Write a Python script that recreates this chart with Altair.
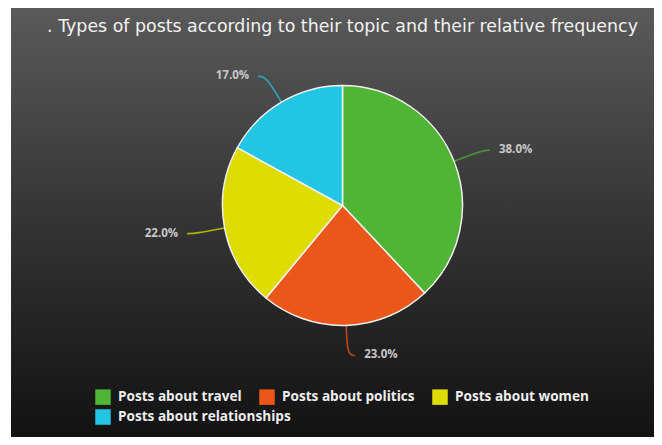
import altair as alt
import pandas as pd

# ---- data ----
categories = [
    "Posts about travel",
    "Posts about politics",
    "Posts about women",
    "Posts about relationships",
]
shares = [38.0, 23.0, 22.0, 17.0]
slice_colors = ["#50b434", "#ea5719", "#dedc00", "#22c6e4"]
title_text = ". Types of posts according to their topic and their relative frequency"

df = pd.DataFrame({"category": categories, "share": shares, "idx": list(range(len(categories)))})

# ---- layout ----
W, H = 646, 429
CX, CY = 334.5, 197.5
R = 120

xs = alt.Scale(domain=[-CX, W - CX], nice=False, zero=False)
ys = alt.Scale(domain=[-(H - CY), CY], nice=False, zero=False)
cscale = alt.Scale(domain=categories, range=slice_colors)
# the legend wraps after three entries: the last entry gets its own legend row
row2_scale = alt.Scale(domain=categories[3:], range=slice_colors[3:])

legend_style = dict(
    orient="none", direction="horizontal", title=None,
    symbolType="square", symbolSize=240, symbolStrokeWidth=0, symbolOpacity=1,
    labelFont="Open Sans", labelFontSize=13.6, labelFontWeight="bold",
    labelColor="#eeeeee", labelOffset=7, columnPadding=17,
    padding=0, labelLimit=300, legendX=87,
)
legend_row1 = alt.Legend(values=categories[:3], legendY=381, **legend_style)
legend_row2 = alt.Legend(legendY=401, **legend_style)

gradient = alt.LinearGradient(
    gradient="linear",
    x1=0, y1=0, x2=0, y2=1,
    stops=[
        alt.GradientStop(offset=0, color="#5a5a5a"),
        alt.GradientStop(offset=0.5, color="#343434"),
        alt.GradientStop(offset=1, color="#121212"),
    ],
)

one = alt.Data(values=[{}])

bg = alt.Chart(one).mark_rect(fill=gradient).encode(
    x=alt.value(3), x2=alt.value(W), y=alt.value(0), y2=alt.value(H)
)

title = alt.Chart(one).mark_text(
    text=title_text, font="DejaVu Sans", fontSize=17.4, color="#f2f2f2",
    align="center", baseline="alphabetic",
).encode(x=alt.value(334.5), y=alt.value(24))

# invisible layer that only carries the second legend row
legend_carrier = (
    alt.Chart(df)
    .transform_filter(alt.FieldOneOfPredicate(field="category", oneOf=categories[3:]))
    .transform_calculate(topic="datum.category")
    .mark_square(size=0)
    .encode(
        color=alt.Color("topic:N", scale=row2_scale, legend=legend_row2),
        x=alt.X(datum=0, scale=xs, axis=None),
        y=alt.Y(datum=0, scale=ys, axis=None),
    )
)

arcs = alt.Chart(df).mark_arc(outerRadius=R, stroke="#f0f0f0", strokeWidth=1.5).encode(
    theta=alt.Theta("share:Q", stack=True),
    order=alt.Order("idx:Q"),
    fill=alt.Fill("category:N", scale=cscale, legend=legend_row1),
    x=alt.X(datum=0, scale=xs, axis=None),
    y=alt.Y(datum=0, scale=ys, axis=None),
)

base = (
    alt.Chart(df)
    .transform_joinaggregate(total="sum(share)")
    .transform_window(cum="sum(share)", sort=[alt.SortField("idx")])
    .transform_calculate(
        mid="(datum.cum - datum.share / 2) / datum.total * 2 * PI",
        side="sin(datum.mid) >= 0 ? 1 : -1",
        label="format(datum.share, '.1f') + '%'",
        line_topic="datum.category",
    )
)

connectors = (
    base.transform_calculate(steps="[0, 1, 2]")
    .transform_flatten(["steps"])
    .transform_calculate(
        rr="datum.steps == 0 ? 119 : 150",
        lx="datum.rr * sin(datum.mid) + (datum.steps == 2 ? 8 * datum.side : 0)",
        ly="datum.rr * cos(datum.mid)",
    )
    .mark_line(interpolate="basis", strokeWidth=1.6, opacity=0.75)
    .encode(
        x=alt.X("lx:Q", scale=xs, axis=None),
        y=alt.Y("ly:Q", scale=ys, axis=None),
        stroke=alt.Stroke("line_topic:N", scale=cscale, legend=None),
        detail="line_topic:N",
        order="steps:Q",
    )
)

text_base = base.transform_calculate(
    tx="150 * sin(datum.mid) + 17 * datum.side",
    ty="150 * cos(datum.mid)",
)
text_enc = dict(
    x=alt.X("tx:Q", scale=xs, axis=None),
    y=alt.Y("ty:Q", scale=ys, axis=None),
    text="label:N",
)
label_style = dict(baseline="middle", font="Open Sans", fontSize=11.5,
                   fontWeight="bold", color="#c8c8c8")
labels_right = text_base.transform_filter("datum.side > 0").mark_text(
    align="left", **label_style).encode(**text_enc)
labels_left = text_base.transform_filter("datum.side < 0").mark_text(
    align="right", **label_style).encode(**text_enc)

chart = (
    alt.layer(bg, title, legend_carrier, connectors, arcs, labels_right, labels_left)
    .resolve_scale(color="independent", fill="independent", stroke="independent")
    .properties(
        width=W, height=H,
        autosize=alt.AutoSizeParams(type="fit", contains="padding"),
        padding=0,
    )
    .configure(background="white")
    .configure_view(stroke=None)
)

chart.save("out.html", embed_options={"renderer": "svg", "actions": False})
